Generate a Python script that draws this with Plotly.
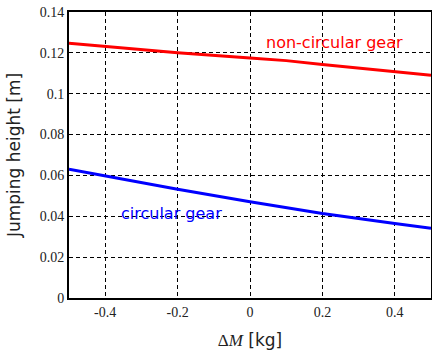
import plotly.graph_objects as go

delta_m = [-0.5, -0.4, -0.2, 0.0, 0.1, 0.2, 0.4, 0.5]
non_circular = [0.1247, 0.1232, 0.1201, 0.1175, 0.1162, 0.1143, 0.1110, 0.1090]
circular = [0.0631, 0.0597, 0.0532, 0.0471, 0.0442, 0.0414, 0.0365, 0.0341]

x_ticks = [-0.4, -0.2, 0.0, 0.2, 0.4]
x_labels = ["-0.4", "-0.2", "0", "0.2", "0.4"]
y_ticks = [0, 0.02, 0.04, 0.06, 0.08, 0.1, 0.12, 0.14]
y_labels = ["0", "0.02", "0.04", "0.06", "0.08", "0.1", "0.12", "0.14"]

SERIF = "Liberation Serif"
SANS = "DejaVu Sans"

fig = go.Figure()
fig.add_trace(go.Scatter(x=delta_m, y=non_circular, mode="lines",
                         line=dict(color="#ff0000", width=3), showlegend=False))
fig.add_trace(go.Scatter(x=delta_m, y=circular, mode="lines",
                         line=dict(color="#0000ff", width=3), showlegend=False))

fig.add_annotation(x=0.234, y=0.1253, text="non-circular gear", showarrow=False,
                   font=dict(family=SANS, size=16, color="#ff0000"))
fig.add_annotation(x=-0.216, y=0.0416, text="circular gear", showarrow=False,
                   font=dict(family=SANS, size=16, color="#0000ff"))

axis_common = dict(showline=True, linecolor="black", linewidth=2, mirror=True,
                   showgrid=True, gridcolor="black", gridwidth=1, griddash="4px,3px",
                   zeroline=False, ticks="", automargin=False)

fig.update_xaxes(range=[-0.5, 0.5], tickvals=x_ticks, ticktext=x_labels,
                 tickfont=dict(family=SERIF, size=14, color="#222"),
                 title=dict(text='<span style="font-family:Liberation Serif">Δ<i>M</i></span> [kg]',
                            font=dict(family=SANS, size=17, color="#222")),
                 **axis_common)
fig.update_yaxes(range=[0, 0.14], tickvals=y_ticks, ticktext=y_labels,
                 tickfont=dict(family=SERIF, size=14, color="#222"),
                 title=dict(text="Jumping height [m]",
                            font=dict(family=SANS, size=17, color="#222")),
                 **axis_common)

fig.update_layout(width=432, height=351, margin=dict(l=69, r=1, t=12, b=53),
                  font=dict(family=SERIF),
                  plot_bgcolor="white", paper_bgcolor="white")

fig.write_html("out.html", config={"displayModeBar": False},
               post_script="document.body.style.margin='0';document.body.style.overflow='hidden';")
